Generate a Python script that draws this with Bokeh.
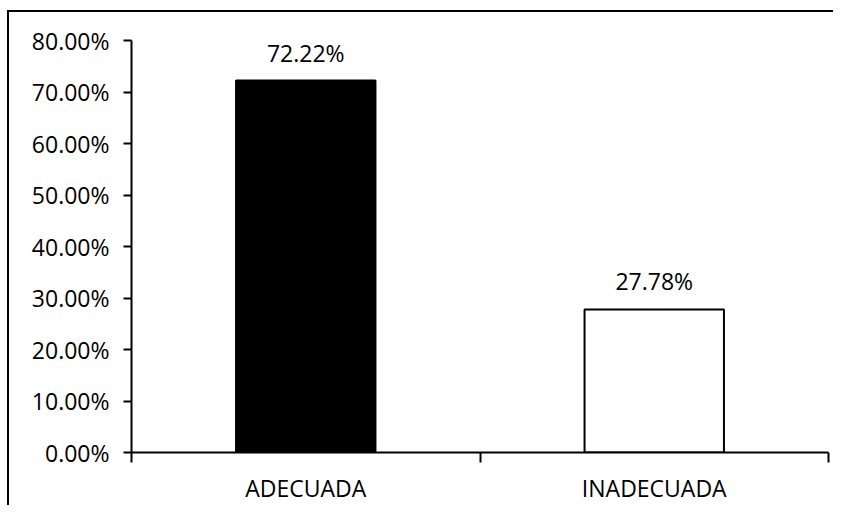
from bokeh.plotting import figure
from bokeh.models import Range1d, FixedTicker, NumeralTickFormatter, ColumnDataSource
from bokeh.core.properties import value
from bokeh.embed import file_html
from bokeh.resources import INLINE

categories = ["ADECUADA", "INADECUADA"]
values = [0.7222, 0.2778]
labels = ["72.22%", "27.78%"]
fills = ["black", "white"]
yticks = [0.0, 0.1, 0.2, 0.3, 0.4, 0.5, 0.6, 0.7, 0.8]

FONT = "Open Sans"
FS = "23px"

xpos = [i + 0.5 for i in range(len(categories))]
src = ColumnDataSource(dict(x=xpos, top=values, fill=fills, label=labels))

p = figure(width=826, height=495, output_backend="svg", toolbar_location=None,
           x_range=Range1d(0, len(categories)), y_range=Range1d(0, 0.8),
           min_border_left=122, min_border_right=7, min_border_top=28, min_border_bottom=55)
p.styles = {"border-top": "2px solid black", "border-left": "2px solid black",
            "margin-top": "10px", "margin-left": "7px"}
p.outline_line_color = None
p.xgrid.visible = False
p.ygrid.visible = False
p.background_fill_color = "white"
p.border_fill_color = "white"

p.vbar(x="x", top="top", width=0.4, bottom=0, source=src,
       fill_color="fill", line_color="black", line_width=2)
p.text(x="x", y="top", text="label", source=src, y_offset=-28,
       text_align="center", text_baseline="middle",
       text_font=value(FONT), text_font_size=FS, text_color="black")

# x axis
xa = p.xaxis[0]
xa.ticker = FixedTicker(ticks=xpos, minor_ticks=[0, 1, 2])
xa.major_label_overrides = {x: c for x, c in zip(xpos, categories)}
xa.major_tick_out = 0
xa.major_tick_in = 0
xa.minor_tick_out = 10
xa.minor_tick_in = 0
xa.minor_tick_line_color = "black"
xa.minor_tick_line_width = 2
xa.axis_line_color = "black"
xa.axis_line_width = 2
xa.major_label_standoff = 9
xa.major_label_text_font = FONT
xa.major_label_text_font_size = FS
xa.major_label_text_color = "black"

# y axis
ya = p.yaxis[0]
ya.ticker = FixedTicker(ticks=yticks, minor_ticks=[])
ya.formatter = NumeralTickFormatter(format="0.00%")
ya.major_tick_out = 8
ya.major_tick_in = 0
ya.major_tick_line_color = "black"
ya.major_tick_line_width = 2
ya.axis_line_color = "black"
ya.axis_line_width = 2
ya.major_label_standoff = 14
ya.major_label_text_font = FONT
ya.major_label_text_font_size = FS
ya.major_label_text_color = "black"

open("out.html", "w").write(file_html(p, INLINE))
